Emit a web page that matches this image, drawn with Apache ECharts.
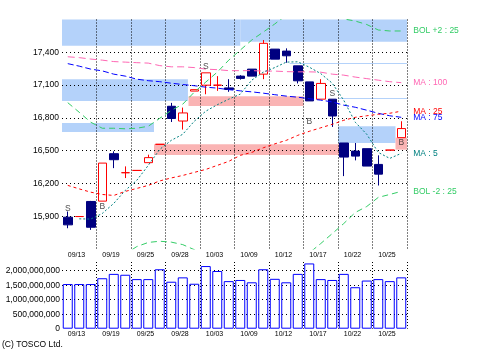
<!DOCTYPE html>
<html><head><meta charset="utf-8">
<script src="https://cdn.jsdelivr.net/npm/echarts@6/dist/echarts.min.js"></script>
<style>html,body{margin:0;padding:0;background:#fff}#c{width:478px;height:360px}</style>
</head><body><div id="c"></div>
<script>
// ---------- data ----------
const dates = ['09/13','09/14','09/18','09/19','09/20','09/21','09/25','09/26','09/27','09/28',
  '10/01','10/02','10/03','10/04','10/05','10/09','10/10','10/11','10/12','10/15',
  '10/16','10/17','10/18','10/19','10/22','10/23','10/24','10/25','10/26','10/29'];
const opens  = [15891,15897,16035,16038,16472,16298,16319,16390,16558,16906,16771,17045,17099,17099,17074,17182,17246,17200,17429,17411,17276,17129,16971,16971,16570,16496,16518,16374,16505,16619];
const closes = [15821,15897,15799,16386,16417,16298,16319,16436,16558,16794,16845,17058,17212,17099,17060,17161,17182,17482,17337,17368,17139,16955,17115,16817,16441,16450,16359,16285,16505,16702];
const lows   = [15790,15897,15775,16038,16340,16249,16319,16390,16558,16762,16693,17045,17016,17047,17038,17150,17182,17154,17337,17304,17115,16955,16971,16717,16267,16411,16359,16181,16505,16619];
const highs  = [15943,15897,16040,16386,16494,16356,16319,16463,16558,16937,16894,17058,17212,17182,17154,17190,17246,17512,17429,17436,17276,17129,17154,16971,16570,16570,16518,16457,16505,16769];
const volumes = [1540,1540,1540,1740,1890,1860,1710,1710,2050,1620,1770,1550,2160,1990,1640,1680,1600,2050,1720,1600,1890,2250,1710,1680,1890,1430,1660,1710,1640,1770].map(v=>v*1e6);
const ma5   = ['-',15876,15874,15925,16017,16136,16228,16365,16512,16594,16650,16769,16861,16920,16971,17017,17145,17218,17260,17310,17313,17264,17205,17117,16961,16760,16650,16484,16429,16475];
const ma25  = [16182,16150,16120,16099,16090,16127,16154,16182,16223,16250,16273,16301,16328,16365,16402,16457,16484,16526,16562,16594,16640,16677,16709,16741,16778,16805,16819,16833,16842,16861];
const ma75  = [17296,17273,17246,17230,17200,17182,17154,17140,17131,17117,17105,17094,17081,17072,17058,17047,17038,17026,17012,16999,16989,16975,16962,16946,16916,16897,16870,16842,16819,16805];
const ma100 = [17359,17351,17338,17328,17315,17310,17305,17301,17278,17267,17267,17260,17246,17241,17232,17232,17232,17228,17228,17223,17221,17221,17218,17200,17191,17173,17159,17145,17131,17122];
const bolUp = [16939,16851,16760,16705,16705,16700,16705,16723,16796,16868,16925,17035,17127,17218,17328,17420,17512,17585,17659,17740,17780,17790,17780,17750,17705,17686,17654,17604,17595,17595];
const bolDn = [15425,15449,15480,15493,15475,15554,15622,15660,15671,15663,15640,15594,15529,15512,15476,15494,15456,15467,15465,15448,15500,15564,15650,15741,15833,15934,15989,16072,16099,16127];
// zones: [fromSlot, toSlot, low, high]
const blueZones = [[-0.5,15.0,17460,17700],[15.0,29.5,17496,17700],[-0.5,10.45,16955,17154],[-0.5,7.5,16671,16753],[23.5,28.5,16570,16723],[19.3,29.5,17293,17303],[23.5,29.5,16972,16982]];
const pinkZones = [[10.5,20.5,16909,16998],[7.5,23.7,16460,16558],[28.5,29.5,16509,16619]];
const signalIdx = [0,3,12,21,23,29];
const signalPrice = [15968,15992,17267,16762,17023,16570];
const signalText = ['S','B','S','B','S','B'];

// ---------- styles ----------
const FONT = '"Liberation Sans", Arial, sans-serif';
const NAVY='#000080', RED='#ff0000', BLUE='#0000ff', TEAL='#008080', PINK='#ff66b3', GREEN='#33cc66';
const BAND_BLUE='#b4d2fa', BAND_PINK='#fab4b4';
const NONE='rgba(0,0,0,0)', DOT='#000';
const fmt = v => String(Math.round(v)).replace(/\B(?=(\d{3})+(?!\d))/g, ',');

const candleData = dates.map((d,i)=>{
  const v=[opens[i],closes[i],lows[i],highs[i]];
  if (opens[i]===closes[i]) return {value:v,itemStyle:{color:'#fff',color0:'#fff',borderColor:RED,borderColor0:RED}};
  return v;
});
const zoneItems = blueZones.map(z=>[{xAxis:z[0],yAxis:z[3],itemStyle:{color:BAND_BLUE}},{xAxis:z[1],yAxis:z[2]}])
  .concat(pinkZones.map(z=>[{xAxis:z[0],yAxis:z[3],itemStyle:{color:BAND_PINK}},{xAxis:z[1],yAxis:z[2]}]));
// split line colours: edge ticks (axis min / max) invisible, inner ticks dotted
const splitColors = n => Array.from({length:n},(_,k)=>(k===0||k===n-1)?NONE:DOT);
const dotted = (colors,dash) => ({show:true,lineStyle:{color:colors,type:dash,width:1}});

function maLine(name,data,color,dash,label){
  return {name,type:'line',xAxisIndex:0,yAxisIndex:0,data,showSymbol:false,symbol:'none',z:5,
    lineStyle:{color,width:1,type:dash},
    endLabel:{show:true,formatter:label,color,fontSize:8.5,fontFamily:FONT,distance:12}};
}
const catAxisLabel = {interval:2, align:'left', fontSize:7, fontFamily:FONT, color:'#000'};
const noLine = {axisLine:{show:false},axisTick:{show:false}};

const option = {
  animation:false,
  grid:[{left:62,right:71,top:19.5,height:229.5},{left:62,right:71,top:262,height:66.7}],
  xAxis:[
    Object.assign({type:'category',gridIndex:0,data:dates,splitLine:{show:false},axisLabel:Object.assign({margin:3},catAxisLabel)},noLine),
    Object.assign({type:'category',gridIndex:1,data:dates,splitLine:{show:false},axisLabel:Object.assign({margin:2},catAxisLabel)},noLine),
    Object.assign({type:'value',gridIndex:0,min:-0.5,max:dates.length-0.5,interval:3,z:3,axisLabel:{show:false},splitLine:dotted(splitColors(12),[1,2])},noLine),
    Object.assign({type:'value',gridIndex:1,min:-0.5,max:dates.length-0.5,interval:3,z:3,axisLabel:{show:false},splitLine:dotted(splitColors(12),[1,2])},noLine)
  ],
  yAxis:[
    Object.assign({type:'value',gridIndex:0,min:15600,max:17700,interval:300,z:3,splitLine:dotted(splitColors(8),[1,3]),
     axisLabel:{showMinLabel:false,showMaxLabel:false,formatter:fmt,fontSize:8.5,fontFamily:FONT,color:'#000',margin:3}},noLine),
    Object.assign({type:'value',gridIndex:1,min:0,max:2300000000,interval:500000000,z:3,splitLine:dotted(splitColors(6),[1,3]),
     axisLabel:{formatter:v=>(v%500000000===0?fmt(v):''),fontSize:8.5,fontFamily:FONT,color:'#000',margin:2}},noLine)
  ],
  series:[
    {type:'line',xAxisIndex:2,yAxisIndex:0,data:[],z:1,silent:true,
     markArea:{silent:true,data:zoneItems}},
    {type:'candlestick',xAxisIndex:0,yAxisIndex:0,data:candleData,barWidth:9,z:4,
     itemStyle:{color:'#fff',color0:NAVY,borderColor:RED,borderColor0:NAVY,borderWidth:1}},
    maLine('MA100',ma100,PINK,[7,4],'MA : 100'),
    maLine('MA75',ma75,BLUE,[6,3],'MA : 75'),
    maLine('MA25',ma25,RED,[3,3],'MA : 25'),
    maLine('MA5',ma5,TEAL,[2,2],'MA : 5'),
    maLine('BOLU',bolUp,GREEN,[6,4],'BOL +2 : 25'),
    maLine('BOLD',bolDn,GREEN,[6,4],'BOL -2 : 25'),
    {type:'bar',xAxisIndex:1,yAxisIndex:1,data:volumes,barWidth:10,z:4,
     itemStyle:{color:'rgba(255,255,255,0)',borderColor:BLUE,borderWidth:1}},
    {type:'scatter',xAxisIndex:0,yAxisIndex:0,z:6,symbolSize:1,itemStyle:{color:'rgba(0,0,0,0)'},
     data:signalIdx.map((k,j)=>[dates[k],signalPrice[j]]),
     label:{show:true,position:'inside',formatter:p=>signalText[p.dataIndex],fontSize:8.5,fontFamily:FONT,color:'#222'}}
  ],
  graphic:[{type:'text',left:2,top:340,style:{text:'(C) TOSCO Ltd.',font:'8.5px '+FONT,fill:'#000'}}]
};
const chart = echarts.init(document.getElementById('c'),null,{renderer:'canvas'});
chart.setOption(option);
</script></body></html>
